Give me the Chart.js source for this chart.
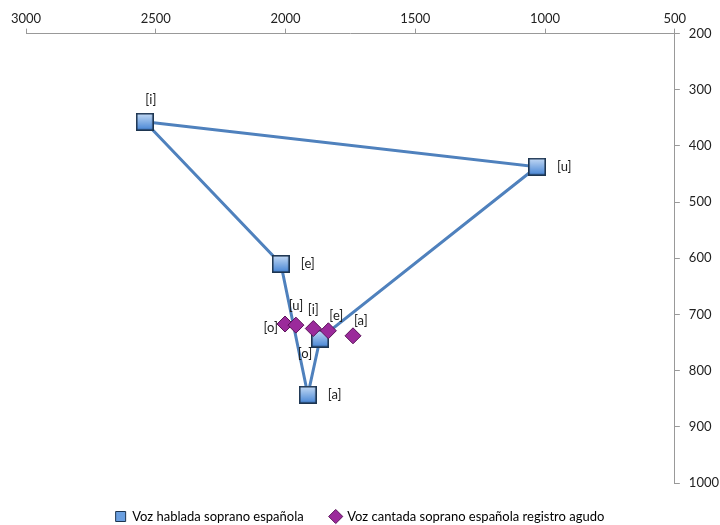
<!DOCTYPE html>
<html>
<head>
<meta charset="utf-8">
<script src="https://cdn.jsdelivr.net/npm/chart.js@4.4.0/dist/chart.umd.min.js"></script>
<style>
  html, body { margin: 0; padding: 0; background: #fff; }
  #wrap { width: 720px; height: 525px; }
</style>
</head>
<body>
<div id="wrap"><canvas id="chart1" width="720" height="525"></canvas></div>
<script>
// F2 (x) y F1 (y) en Hz
var hablVowels = ['[i]', '[e]', '[a]', '[o]', '[u]', '[i]'];
var hablF2 = [2542, 2018, 1914, 1867, 1031, 2542];
var hablF1 = [357, 610, 843, 743, 437, 357];

var cantVowels = ['[o]', '[u]', '[i]', '[e]', '[a]'];
var cantF2 = [2002, 1960, 1893, 1835, 1740];
var cantF1 = [717, 719, 725, 729, 738];

var xTicks = [3000, 2500, 2000, 1500, 1000, 500];
var yTicks = [200, 300, 400, 500, 600, 700, 800, 900, 1000];

// where each vowel label sits relative to its marker
var hablLabelPos = ['top', 'right', 'right', 'bottomleft', 'right', null];
var cantLabelPos = ['left', 'top', 'top', 'topright', 'topright'];

function toPoints(xs, ys) {
  var pts = [];
  for (var i = 0; i < xs.length; ++i) {
    pts.push({x: xs[i], y: ys[i]});
  }
  return pts;
}

var font = 'Lato, "Open Sans", sans-serif';

var vowelLabels = {
  id: 'vowelLabels',
  afterDatasetsDraw: function(chart) {
    var ctx = chart.ctx;
    var sets = [[hablVowels, hablLabelPos], [cantVowels, cantLabelPos]];
    ctx.save();
    ctx.font = '13px ' + font;
    ctx.fillStyle = '#222';
    ctx.textBaseline = 'middle';
    for (var d = 0; d < sets.length; ++d) {
      var meta = chart.getDatasetMeta(d);
      var names = sets[d][0], pos = sets[d][1];
      for (var i = 0; i < meta.data.length; ++i) {
        if (!pos[i]) continue;
        var p = meta.data[i];
        var x = p.x, y = p.y;
        ctx.textAlign = 'center';
        if (pos[i] == 'top') { y -= (d == 0 ? 22 : 19); x += (d == 0 ? 6 : 0); }
        else if (pos[i] == 'right') { x += 20; ctx.textAlign = 'left'; }
        else if (pos[i] == 'left') { x -= 7; y += 4; ctx.textAlign = 'right'; }
        else if (pos[i] == 'topright') { x += 1; y -= 15; ctx.textAlign = 'left'; }
        else if (pos[i] == 'bottomleft') { x -= 15; y += 15; }
        ctx.fillText(names[i], x, y);
      }
    }
    ctx.restore();
  }
};

// legend sits a bit left of centre in the original
var legendShift = {
  id: 'legendShift',
  afterLayout: function(chart) {
    chart.legend.left -= 17;
    chart.legend.right -= 17;
  }
};

function makeChart() {
  var sq = document.createElement('canvas');
  sq.width = 18; sq.height = 18;
  var sc = sq.getContext('2d');
  var g = sc.createLinearGradient(0, 0, 0, 18);
  g.addColorStop(0, '#c8ddf6');
  g.addColorStop(1, '#4282d4');
  sc.fillStyle = g;
  sc.fillRect(0, 0, 18, 18);
  sc.strokeStyle = '#1d3550';
  sc.lineWidth = 1.6;
  sc.strokeRect(0.8, 0.8, 16.4, 16.4);

  var tickFont = { family: font, size: 13 };
  var noComma = function(v) { return String(v); };

  var chart = new Chart('chart1', {
    type: 'scatter',
    data: {
      datasets: [
        {
          label: 'Voz hablada soprano española',
          data: toPoints(hablF2, hablF1),
          showLine: true,
          borderColor: '#4f81bd',
          borderWidth: 3,
          pointStyle: sq,
          backgroundColor: '#5d93d8',
          pointBorderColor: '#1d3550',
          order: 2
        },
        {
          label: 'Voz cantada soprano española registro agudo',
          data: toPoints(cantF2, cantF1),
          showLine: false,
          pointStyle: 'rectRot',
          pointRadius: 8,
          pointHoverRadius: 8,
          backgroundColor: '#9b2a9b',
          borderColor: '#5a1259',
          borderWidth: 1,
          order: 1
        }
      ]
    },
    options: {
      responsive: false,
      animation: false,
      layout: { padding: { left: 26, right: -8, top: 9, bottom: -8 } },
      scales: {
        x: {
          type: 'linear',
          position: 'top',
          reverse: true,
          min: 500,
          max: 3000,
          afterBuildTicks: function(axis) {
            axis.ticks = xTicks.map(function(v) { return {value: v}; });
          },
          grid: { drawOnChartArea: false, color: '#999', tickLength: 5 },
          border: { color: '#999' },
          ticks: { color: '#222', font: tickFont, maxRotation: 0, padding: 2, callback: noComma }
        },
        y: {
          type: 'linear',
          position: 'right',
          reverse: true,
          min: 200,
          max: 1000,
          afterBuildTicks: function(axis) {
            axis.ticks = yTicks.map(function(v) { return {value: v}; });
          },
          grid: { drawOnChartArea: false, color: '#999', tickLength: 5 },
          border: { color: '#999' },
          ticks: { color: '#222', font: tickFont, padding: 9, callback: noComma }
        }
      },
      plugins: {
        legend: {
          display: true,
          position: 'bottom',
          labels: {
            usePointStyle: true,
            boxWidth: 10,
            boxHeight: 10,
            padding: 27,
            color: '#222',
            font: { family: font, size: 13 },
            generateLabels: function(ch) {
              return ch.data.datasets.map(function(ds, i) {
                return {
                  text: ds.label,
                  fillStyle: i == 0 ? '#6a9fe0' : '#9b2a9b',
                  strokeStyle: i == 0 ? '#1d3550' : '#5a1259',
                  lineWidth: 1,
                  pointStyle: i == 0 ? 'rect' : 'rectRot',
                  datasetIndex: i
                };
              });
            }
          }
        },
        tooltip: { enabled: false }
      }
    },
    plugins: [vowelLabels, legendShift]
  });
}

makeChart();
</script>
</body>
</html>
